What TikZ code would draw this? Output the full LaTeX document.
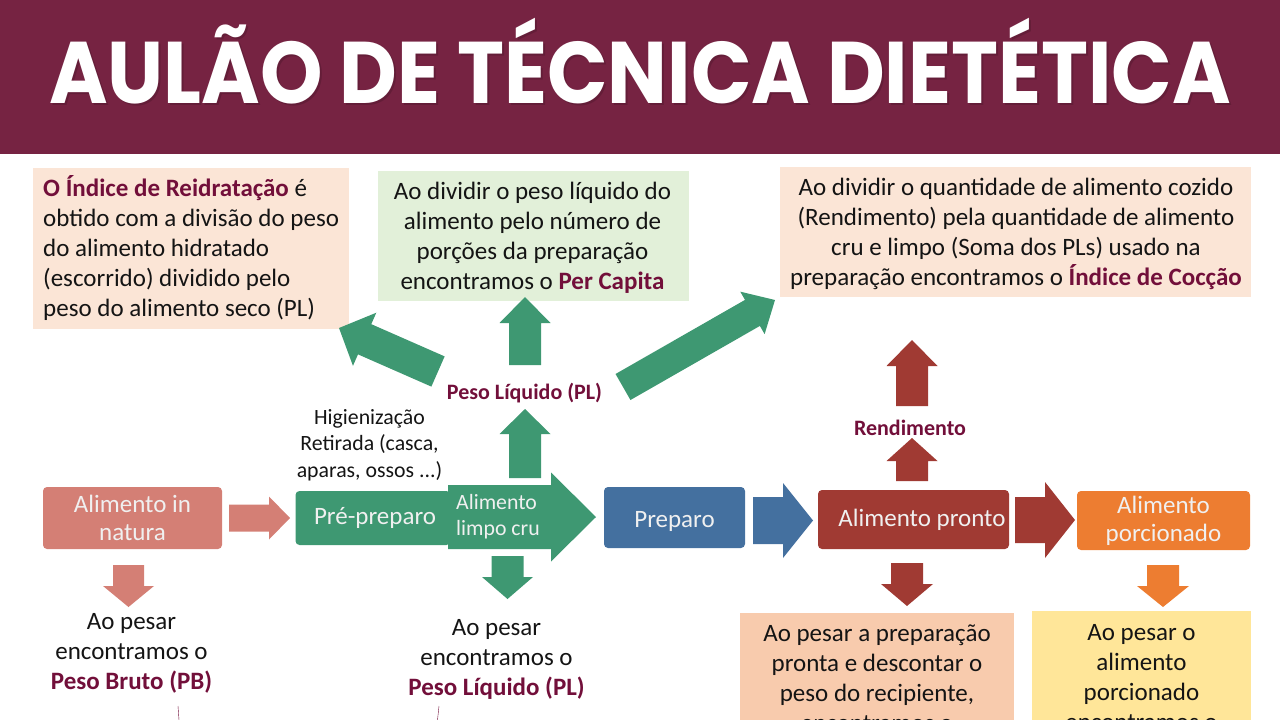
\documentclass[tikz,border=0pt]{standalone}
\usepackage{fontspec}
\setmainfont{Carlito}
\newfontfamily\titlefont{Poppins}
\usetikzlibrary{calc}
\definecolor{band}{HTML}{762342}
\definecolor{strongtxt}{HTML}{720F3A}
\definecolor{rawpink}{HTML}{D47F75}
\definecolor{cleangreen}{HTML}{3E9872}
\definecolor{cookblue}{HTML}{44709F}
\definecolor{readyred}{HTML}{A03A33}
\definecolor{portionorange}{HTML}{ED7D31}
\definecolor{peachpale}{HTML}{FBE5D6}
\definecolor{greenpale}{HTML}{E2F0D9}
\definecolor{peachdeep}{HTML}{F8CBAD}
\definecolor{yellowpale}{HTML}{FFE699}
\newcommand{\keyword}[1]{\textcolor{strongtxt}{\textbf{#1}}}
\newcommand{\headtext}{\scalebox{1}[1.1]{AULÃO DE TÉCNICA DIETÉTICA}}
\tikzset{
    stage/.style={rounded corners=4pt,inner sep=0pt,text=white!94!black,align=center,
        font=\fontsize{25}{28}\selectfont},
    infobox/.style={inner sep=0pt},
    plain/.style={inner sep=0pt,align=center,text=black!92,font=\fontsize{25}{30}\selectfont},
    tag/.style={inner sep=0pt,text=strongtxt,font=\fontsize{22}{24}\selectfont\bfseries},
    headline/.style={inner sep=0pt,anchor=base,font=\fontsize{79.5}{90}\selectfont\titlefont\bfseries},
}
\begin{document}
\begin{tikzpicture}[x=1pt,y=-1pt]
    \clip (0,0) rectangle (1280,720);
    \fill[band] (0,0) rectangle (1280,154);
    \node (titleshade) at (642,105.5) [headline,text=black,text opacity=.15] {\headtext};
    \node (title) at (640,103) [headline,text=white] {\headtext};

    \node (reidrat) at (191,248.5) [infobox,fill=peachpale,minimum width=316pt,minimum height=161pt] {};
    \node (percap) at (533.5,236) [infobox,fill=greenpale,minimum width=311pt,minimum height=130pt] {};
    \node (coccao) at (1015.5,232) [infobox,fill=peachpale,minimum width=471pt,minimum height=130pt] {};
    \node (reidrattxt) at (43,248.5) [plain,anchor=west,align=left] {\keyword{O Índice de Reidratação} é\\obtido com a divisão do peso\\do alimento hidratado\\(escorrido) dividido pelo\\peso do alimento seco (PL)};
    \node (percaptxt) at (532.5,238) [plain] {Ao dividir o peso líquido do\\alimento pelo número de\\porções da preparação\\encontramos o \keyword{Per Capita}};
    \node (coccaotxt) at (1016,234) [plain] {Ao dividir o quantidade de alimento cozido\\(Rendimento) pela quantidade de alimento\\cru e limpo (Soma dos PLs) usado na\\preparação encontramos o \keyword{Índice de Cocção}};

    \node (natura) at (132.5,518) [stage,fill=rawpink,minimum width=179pt,minimum height=62pt] {Alimento in\\natura};
    \node (prepre) at (373,518) [stage,fill=cleangreen,minimum width=155pt,minimum height=54pt] {\hspace{4pt}Pré-preparo};
    \node (preparo) at (674.5,517.5) [stage,fill=cookblue,minimum width=141pt,minimum height=61pt] {\raisebox{-2pt}[\height][0pt]{Preparo}};
    \node (pronto) at (913.5,519.5) [stage,fill=readyred,minimum width=191pt,minimum height=59pt] {\hspace{17pt}Alimento pronto};
    \node (porcion) at (1163.5,520.5) [stage,fill=portionorange,minimum width=173pt,minimum height=59pt] {Alimento\\porcionado};

    \def\fatarrow#1#2#3#4#5#6{
    \coordinate (h) at ($(#3)!#6 pt!(#2)$);
    \fill[#1] ($(#2)!#4 pt!90:(#3)$) -- ($(h)!#4 pt!90:(#3)$) -- ($(h)!#5 pt!90:(#3)$) -- (#3)
    -- ($(h)!#5 pt!-90:(#3)$) -- ($(h)!#4 pt!-90:(#3)$) -- ($(#2)!#4 pt!-90:(#3)$) -- cycle;
    }
    \foreach \name/\col/\tx/\ty/\hx/\hy/\sw/\hw/\hl in {
        rawright/rawpink/229/518/290/518/13.5/21.5/21,
        rawdown/rawpink/128.5/565/128.5/607/15.5/25.5/21,
        cleanright/cleangreen/448/517/596/517/32/44.5/45,
        cleanup/cleangreen/525/478/525/409/16/25.5/25,
        percapup/cleangreen/525/365/525/297/16/25.5/26,
        cleandown/cleangreen/507.5/556/507.5/599/16/25.5/22,
        reidup/cleangreen/438/371.5/339/328/16.5/29/28,
        coccup/cleangreen/623/387/775/300/15/24.5/26,
        cookright/cookblue/753/520.5/813/520.5/23.5/37.5/30,
        readyright/readyred/1015/520/1075/520/23/38/30,
        readyupa/readyred/912/481/912/438/16/25.5/23,
        readyupb/readyred/912/406/912/340/16/25.5/26,
        readydown/readyred/907/563/907/606/16/26/22,
        portdown/portionorange/1163/565/1163/607/16/26/21%
    }{
        \coordinate (\name a) at (\tx,\ty);
        \coordinate (\name b) at (\hx,\hy);
        \fatarrow{\col}{\name a}{\name b}{\sw}{\hw}{\hl}
    }

    \node (limpo) at (456,516.5) [anchor=west,inner sep=0pt,align=left,text=white!94!black,font=\fontsize{21.8}{26}\selectfont] {Alimento\\limpo cru};
    \node (higien) at (369.5,445) [plain,font=\fontsize{21.8}{26.5}\selectfont] {Higienização\\Retirada (casca,\\aparas, ossos ...)};
    \node (plmid) at (524.5,393) [tag] {Peso Líquido (PL)};
    \node (rendim) at (910,428) [tag] {Rendimento};

    \node (pesopb) at (131.5,653) [plain] {Ao pesar\\encontramos o\\\keyword{Peso Bruto (PB)}};
    \node (pesopl) at (496.5,659) [plain] {Ao pesar\\encontramos o\\\keyword{Peso Líquido (PL)}};

    \node (prontobox) at (877,679) [fill=peachdeep,minimum width=274pt,minimum height=132pt,inner sep=0pt] {};
    \node (yellowbox) at (1141.5,678) [fill=yellowpale,minimum width=219pt,minimum height=134pt,inner sep=0pt] {};
    \node (prontotxt) at (877,625) [plain,anchor=north] {Ao pesar a preparação\\pronta e descontar o\\peso do recipiente,\\encontramos o};
    \node (yellowtxt) at (1141.5,624.5) [plain,anchor=north] {Ao pesar o\\alimento\\porcionado\\encontramos o};

    \coordinate (pbfoot) at (179,720);
    \coordinate (pbhead) at (178,706);
    \coordinate (plfoot) at (437.5,720);
    \coordinate (plhead) at (439,706);
    \draw[strongtxt,thin] (pbhead) -- (pbfoot);
    \draw[strongtxt,thin] (plhead) -- (plfoot);
\end{tikzpicture}
\end{document}
